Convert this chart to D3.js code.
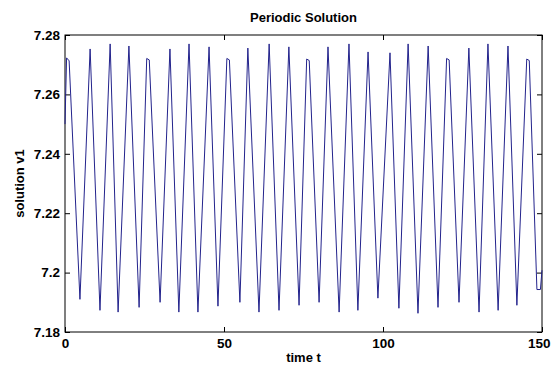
<!DOCTYPE html>
<html>
<head>
<meta charset="utf-8">
<script src="https://cdn.jsdelivr.net/npm/d3@7"></script>
<style>
  body { margin: 0; background: #fff; }
  svg text { font-family: "Liberation Sans", Arial, sans-serif; font-weight: bold; fill: #000; }
</style>
</head>
<body>
<svg id="chart" width="551" height="366"></svg>
<script>
// peaks and troughs of v1 over time t
const time = [0, 0.5, 1.3, 4.7, 7.9, 11.0, 14.2, 16.7, 20.1, 23.3, 25.7, 26.5, 29.9, 33.0, 35.8, 39.0,
  41.8, 45.3, 48.1, 50.9, 51.7, 55.0, 57.5, 61.0, 64.2, 67.3, 70.4, 73.6, 76.0, 76.8, 79.9, 82.7,
  86.2, 89.3, 92.1, 95.3, 98.4, 102.2, 105.0, 107.9, 111.0, 114.2, 117.3, 120.0, 120.8, 123.9,
  127.0, 130.2, 133.0, 136.2, 139.3, 142.1, 145.2, 146.0, 148.4, 149.5, 150];
const v1 = [7.250, 7.2723, 7.2713, 7.1910, 7.2753, 7.1873, 7.2770, 7.1867, 7.2763, 7.1883, 7.2721,
  7.2716, 7.1900, 7.2753, 7.1867, 7.2770, 7.1867, 7.2760, 7.1887, 7.2721, 7.2716, 7.1900, 7.2756,
  7.1867, 7.2770, 7.1873, 7.2760, 7.1890, 7.2719, 7.2714, 7.1900, 7.2760, 7.1867, 7.2770, 7.1873,
  7.2743, 7.1914, 7.2740, 7.1880, 7.2770, 7.1863, 7.2763, 7.1883, 7.2721, 7.2716, 7.1900, 7.2756,
  7.1867, 7.2770, 7.1873, 7.2763, 7.1890, 7.2719, 7.2714, 7.1943, 7.1943, 7.2008];
const xTicks = [0, 50, 100, 150];
const yTicks = [7.18, 7.2, 7.22, 7.24, 7.26, 7.28];

const margin = {top: 35, right: 9, bottom: 34, left: 65};
const svg = d3.select('#chart');
const innerWidth = 551 - margin.left - margin.right;
const innerHeight = 366 - margin.top - margin.bottom;

const data = time.map((t, i) => ({t: t, v: v1[i]}));

const xScale = d3.scaleLinear().domain([0, 150]).range([0, innerWidth]);
const yScale = d3.scaleLinear().domain([7.18, 7.28]).range([innerHeight, 0]);

const g = svg.append('g')
    .attr('transform', `translate(${margin.left},${margin.top})`);

const fmt = d => String(+d.toFixed(2));

// bottom + left with labels, ticks pointing inside like matlab
const bottomAx = g.append('g')
    .attr('transform', `translate(0,${innerHeight})`)
    .call(d3.axisBottom(xScale).tickValues(xTicks).tickFormat(fmt).tickSizeInner(-5).tickSizeOuter(0).tickPadding(6));
g.append('g')
    .call(d3.axisLeft(yScale).tickValues(yTicks).tickFormat(fmt).tickSizeInner(-5).tickSizeOuter(0).tickPadding(5));
// top + right, ticks only
const topAx = g.append('g')
    .call(d3.axisTop(xScale).tickValues(xTicks).tickSizeInner(-5).tickSizeOuter(0));
const rightAx = g.append('g')
    .attr('transform', `translate(${innerWidth},0)`)
    .call(d3.axisRight(yScale).tickValues(yTicks).tickSizeInner(-5).tickSizeOuter(0));
topAx.selectAll('text').remove();
rightAx.selectAll('text').remove();

g.selectAll('.domain').remove();
g.selectAll('.tick line').attr('stroke', '#000');
g.selectAll('.tick text')
    .style('font-size', '13.5px')
    .style('font-family', '"Liberation Sans", Arial, sans-serif')
    .style('font-weight', 'bold')
    .attr('fill', '#000');
// last x label sits against the right edge
bottomAx.selectAll('.tick text').filter(d => d === 150)
    .attr('text-anchor', 'end')
    .attr('dx', '8');

g.append('rect')
    .attr('width', innerWidth)
    .attr('height', innerHeight)
    .attr('fill', 'none')
    .attr('stroke', '#000')
    .attr('stroke-width', 1);

const line = d3.line()
    .x(d => xScale(d.t))
    .y(d => yScale(d.v));

g.append('path')
    .datum(data)
    .attr('d', line)
    .attr('fill', 'none')
    .attr('stroke', '#23238c')
    .attr('stroke-width', 1);

// title + axis labels
svg.append('text')
    .attr('x', margin.left + innerWidth / 2)
    .attr('y', 22)
    .attr('text-anchor', 'middle')
    .style('font-size', '13px')
    .text('Periodic Solution');

svg.append('text')
    .attr('x', margin.left + innerWidth / 2)
    .attr('y', 362)
    .attr('text-anchor', 'middle')
    .style('font-size', '13px')
    .text('time t');

svg.append('text')
    .attr('transform', `translate(24,${margin.top + innerHeight / 2}) rotate(-90)`)
    .attr('text-anchor', 'middle')
    .style('font-size', '13px')
    .text('solution v1');
</script>
</body>
</html>
